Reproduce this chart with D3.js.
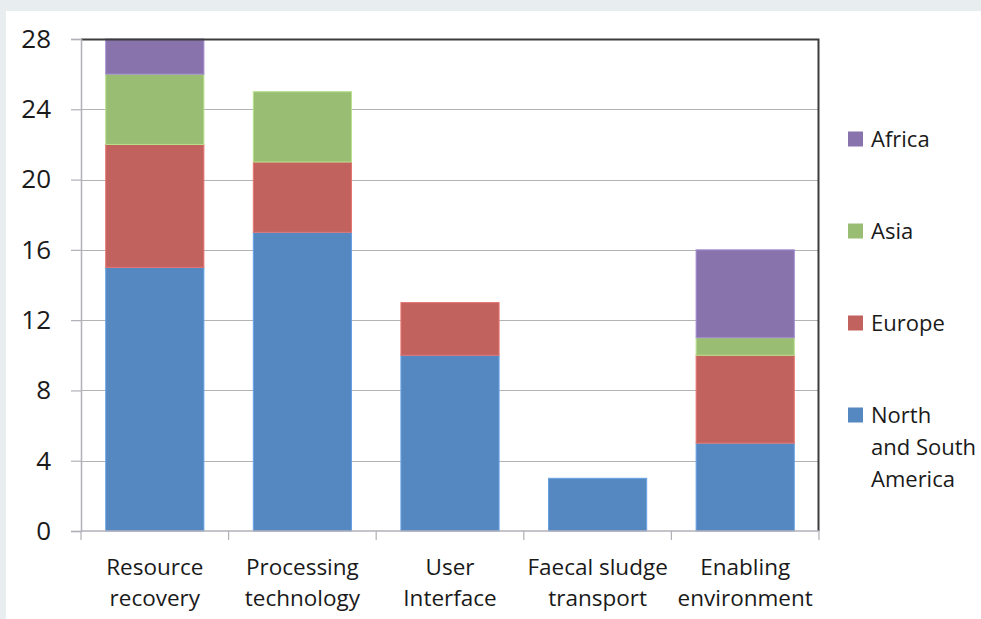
<!DOCTYPE html>
<html>
<head>
<meta charset="utf-8">
<script src="https://cdn.jsdelivr.net/npm/d3@7"></script>
<style>
  body { margin: 0; background: #e8eeef; }
  #wrapper { position: absolute; left: 6px; top: 11px; width: 975px; height: 608px; background: #fff; }
  text { font-family: "Open Sans", sans-serif; fill: #1a1a1a; }
</style>
</head>
<body>
<div id="wrapper"></div>
<script>
const categories = [
  ["Resource", "recovery"],
  ["Processing", "technology"],
  ["User", "Interface"],
  ["Faecal sludge", "transport"],
  ["Enabling", "environment"],
];
const seriesNames = ["North and South America", "Europe", "Asia", "Africa"];
const americaValues = [15, 17, 10, 3, 5];
const europeValues = [7, 4, 3, 0, 5];
const asiaValues = [4, 4, 0, 0, 1];
const africaValues = [2, 0, 0, 0, 5];
const yTicks = [0, 4, 8, 12, 16, 20, 24, 28];
const colors = ["#5587c0", "#c1625e", "#9abd74", "#8873ad"];

function drawChart() {
  const dimensions = {
    width: 975,
    height: 608,
    margin: { top: 28, right: 162, bottom: 88, left: 75 },
  };
  dimensions.boundedWidth = dimensions.width - dimensions.margin.left - dimensions.margin.right;
  dimensions.boundedHeight = dimensions.height - dimensions.margin.top - dimensions.margin.bottom;

  const rows = categories.map((c, i) => ({
    key: i,
    "North and South America": americaValues[i],
    "Europe": europeValues[i],
    "Asia": asiaValues[i],
    "Africa": africaValues[i],
  }));
  const stacked = d3.stack().keys(seriesNames)(rows);

  const svg = d3.select("#wrapper")
    .append("svg")
      .attr("width", dimensions.width)
      .attr("height", dimensions.height);

  const bounds = svg.append("g")
    .attr("transform", `translate(${dimensions.margin.left},${dimensions.margin.top})`);

  const xScale = d3.scaleBand()
    .domain(d3.range(categories.length))
    .range([0, dimensions.boundedWidth]);

  const yScale = d3.scaleLinear()
    .domain([0, 28])
    .range([dimensions.boundedHeight, 0]);

  // gridlines
  bounds.append("g")
    .selectAll("line")
    .data(yTicks.slice(1, -1))
    .join("line")
      .attr("x1", 0)
      .attr("x2", dimensions.boundedWidth)
      .attr("y1", d => Math.round(yScale(d)) + 0.5)
      .attr("y2", d => Math.round(yScale(d)) + 0.5)
      .attr("stroke", "#b3b3b3")
      .attr("stroke-width", 1.2);

  // bars
  const barPad = (1 - 0.665) / 2 * xScale.bandwidth();
  bounds.append("g")
    .selectAll("g")
    .data(stacked)
    .join("g")
      .attr("fill", (d, i) => colors[i])
      .attr("stroke", (d, i) => d3.color(colors[i]).brighter(0.5))
      .attr("stroke-width", 1)
    .selectAll("rect")
    .data(d => d.filter(p => p[1] - p[0] > 0))
    .join("rect")
      .attr("x", p => xScale(p.data.key) + barPad)
      .attr("width", xScale.bandwidth() - 2 * barPad)
      .attr("y", p => yScale(p[1]))
      .attr("height", p => yScale(p[0]) - yScale(p[1]));

  // frame top and right
  bounds.append("path")
    .attr("d", `M0,0.5H${dimensions.boundedWidth - 0.5}V${dimensions.boundedHeight}`)
    .attr("fill", "none")
    .attr("stroke", "#3c3c3c")
    .attr("stroke-width", 2);

  // y axis
  const yAxis = bounds.append("g")
    .call(d3.axisLeft(yScale).tickValues(yTicks).tickSize(10).tickPadding(20));
  yAxis.select(".domain").attr("stroke", "#b0b0b8").attr("stroke-width", 1.5);
  yAxis.selectAll(".tick line").attr("stroke", "#b0b0b8").attr("stroke-width", 1.2);
  yAxis.selectAll(".tick text")
    .style("font-size", "26px")
    .attr("fill", "#1a1a1a");

  // x axis
  const xAxis = bounds.append("g")
    .attr("transform", `translate(0,${dimensions.boundedHeight})`);
  xAxis.append("line")
    .attr("x1", 0)
    .attr("x2", dimensions.boundedWidth)
    .attr("stroke", "#b0b0b8")
    .attr("stroke-width", 1.5);
  xAxis.selectAll(".xtick")
    .data(d3.range(categories.length + 1))
    .join("line")
      .attr("class", "xtick")
      .attr("x1", i => i < categories.length ? xScale(i) : dimensions.boundedWidth)
      .attr("x2", i => i < categories.length ? xScale(i) : dimensions.boundedWidth)
      .attr("y1", 0)
      .attr("y2", 9)
      .attr("stroke", "#b0b0b8")
      .attr("stroke-width", 1.2);
  const xLabels = xAxis.selectAll(".xlabel")
    .data(categories)
    .join("text")
      .attr("class", "xlabel")
      .attr("text-anchor", "middle")
      .style("font-size", "22.5px")
      .attr("transform", (d, i) => `translate(${xScale(i) + xScale.bandwidth() / 2},0)`);
  xLabels.selectAll("tspan")
    .data(d => d)
    .join("tspan")
      .attr("x", 0)
      .attr("y", (d, i) => 44 + i * 31)
      .text(d => d);

  // legend
  const legendItems = [
    { name: ["Africa"], color: colors[3], y: 139 },
    { name: ["Asia"], color: colors[2], y: 231 },
    { name: ["Europe"], color: colors[1], y: 323 },
    { name: ["North", "and South", "America"], color: colors[0], y: 415 },
  ];
  const legend = svg.append("g");
  const items = legend.selectAll("g")
    .data(legendItems)
    .join("g")
      .attr("transform", d => `translate(842,${d.y - 11})`);
  items.append("rect")
    .attr("width", 15)
    .attr("height", 15)
    .attr("y", -7.5)
    .attr("fill", d => d.color);
  items.append("text")
    .style("font-size", "22px")
    .selectAll("tspan")
    .data(d => d.name)
    .join("tspan")
      .attr("x", 23)
      .attr("y", (d, i) => 8 + i * 32)
      .text(d => d);
}

drawChart();
</script>
</body>
</html>
